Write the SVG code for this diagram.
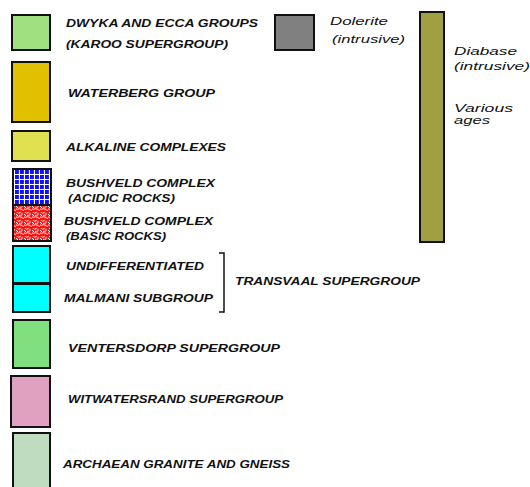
<svg xmlns="http://www.w3.org/2000/svg" width="530" height="487" viewBox="0 0 530 487">
<defs>
<style>
.b{stroke:#111;stroke-width:2}
.t{font-family:"Liberation Sans",Arial,sans-serif;font-style:italic;font-weight:bold;font-size:11px;fill:#111}
.s{font-family:"Liberation Sans",Arial,sans-serif;font-style:italic;font-size:11.5px;fill:#111}
</style>
<pattern id="grid" width="5" height="5" patternUnits="userSpaceOnUse">
<rect width="5" height="5" fill="#1010ff"/>
<path d="M0 4.5H5M4.5 0V5" stroke="#fff" stroke-width="1.2"/>
</pattern>
<pattern id="blob" width="8" height="8" patternUnits="userSpaceOnUse">
<rect width="8" height="8" fill="#ff1010"/>
<path d="M0 1C2 2 3 0 5 1S7 3 8 2M1 4C2 6 4 5 5 4M6 5C7 7 5 8 3 7M0 6L2 8" stroke="#fff" stroke-width="1" fill="none"/>
</pattern>
</defs>
<g id="dwyka"><rect class="b" x="12" y="15" width="38" height="35" fill="#a0e080"/>
<text class="t" x="66" y="27" textLength="192" lengthAdjust="spacingAndGlyphs">DWYKA AND ECCA GROUPS</text>
<text class="t" x="66" y="48" textLength="162" lengthAdjust="spacingAndGlyphs">(KAROO SUPERGROUP)</text></g>
<g id="waterberg"><rect class="b" x="12" y="62" width="38" height="60" fill="#e0c000"/>
<text class="t" x="68" y="97" textLength="147" lengthAdjust="spacingAndGlyphs">WATERBERG GROUP</text></g>
<g id="alkaline"><rect class="b" x="12" y="131" width="38" height="30" fill="#e0e050"/>
<text class="t" x="66" y="151" textLength="160" lengthAdjust="spacingAndGlyphs">ALKALINE COMPLEXES</text></g>
<g id="bushveld-acidic"><rect class="b" x="13" y="169" width="38" height="36" fill="url(#grid)"/>
<text class="t" x="66" y="187" textLength="149" lengthAdjust="spacingAndGlyphs">BUSHVELD COMPLEX</text>
<text class="t" x="68" y="202" textLength="107" lengthAdjust="spacingAndGlyphs">(ACIDIC ROCKS)</text></g>
<g id="bushveld-basic"><rect class="b" x="13" y="205" width="38" height="36" fill="url(#blob)"/>
<text class="t" x="64" y="225" textLength="149" lengthAdjust="spacingAndGlyphs">BUSHVELD COMPLEX</text>
<text class="t" x="66" y="240" textLength="100" lengthAdjust="spacingAndGlyphs">(BASIC ROCKS)</text></g>
<g id="transvaal"><rect class="b" x="13" y="246" width="37" height="37" fill="#00ffff"/>
<rect class="b" x="13" y="284" width="37" height="28" fill="#00ffff"/>
<text class="t" x="66" y="270" textLength="138" lengthAdjust="spacingAndGlyphs">UNDIFFERENTIATED</text>
<text class="t" x="64" y="302" textLength="149" lengthAdjust="spacingAndGlyphs">MALMANI SUBGROUP</text>
<text class="t" x="235" y="285" textLength="185" lengthAdjust="spacingAndGlyphs">TRANSVAAL SUPERGROUP</text></g>
<g id="connectors"><path d="M219 253H224V312H219" fill="none" stroke="#111" stroke-width="1.5"/></g>
<g id="ventersdorp"><rect class="b" x="13" y="320" width="37" height="48" fill="#80e080"/>
<text class="t" x="68" y="352" textLength="212" lengthAdjust="spacingAndGlyphs">VENTERSDORP SUPERGROUP</text></g>
<g id="witwatersrand"><rect class="b" x="11" y="376" width="39" height="51" fill="#e0a0c0"/>
<text class="t" x="68" y="403" textLength="215" lengthAdjust="spacingAndGlyphs">WITWATERSRAND SUPERGROUP</text></g>
<g id="archaean"><rect class="b" x="13" y="433" width="37" height="60" fill="#c0dcc0"/>
<text class="t" x="63" y="468" textLength="227" lengthAdjust="spacingAndGlyphs">ARCHAEAN GRANITE AND GNEISS</text></g>
<g id="dolerite"><rect class="b" x="275" y="15" width="39" height="35" fill="#808080"/>
<text class="s" x="330" y="25" textLength="58" lengthAdjust="spacingAndGlyphs">Dolerite</text>
<text class="s" x="332" y="43" textLength="73" lengthAdjust="spacingAndGlyphs">(intrusive)</text></g>
<g id="diabase"><rect class="b" x="420" y="12" width="24" height="230" fill="#a0a040"/>
<text class="s" x="454" y="55" textLength="63" lengthAdjust="spacingAndGlyphs">Diabase</text>
<text class="s" x="454" y="70" textLength="76" lengthAdjust="spacingAndGlyphs">(intrusive)</text>
<text class="s" x="454" y="112" textLength="59" lengthAdjust="spacingAndGlyphs">Various</text>
<text class="s" x="454" y="124" textLength="36" lengthAdjust="spacingAndGlyphs">ages</text></g>
</svg>
